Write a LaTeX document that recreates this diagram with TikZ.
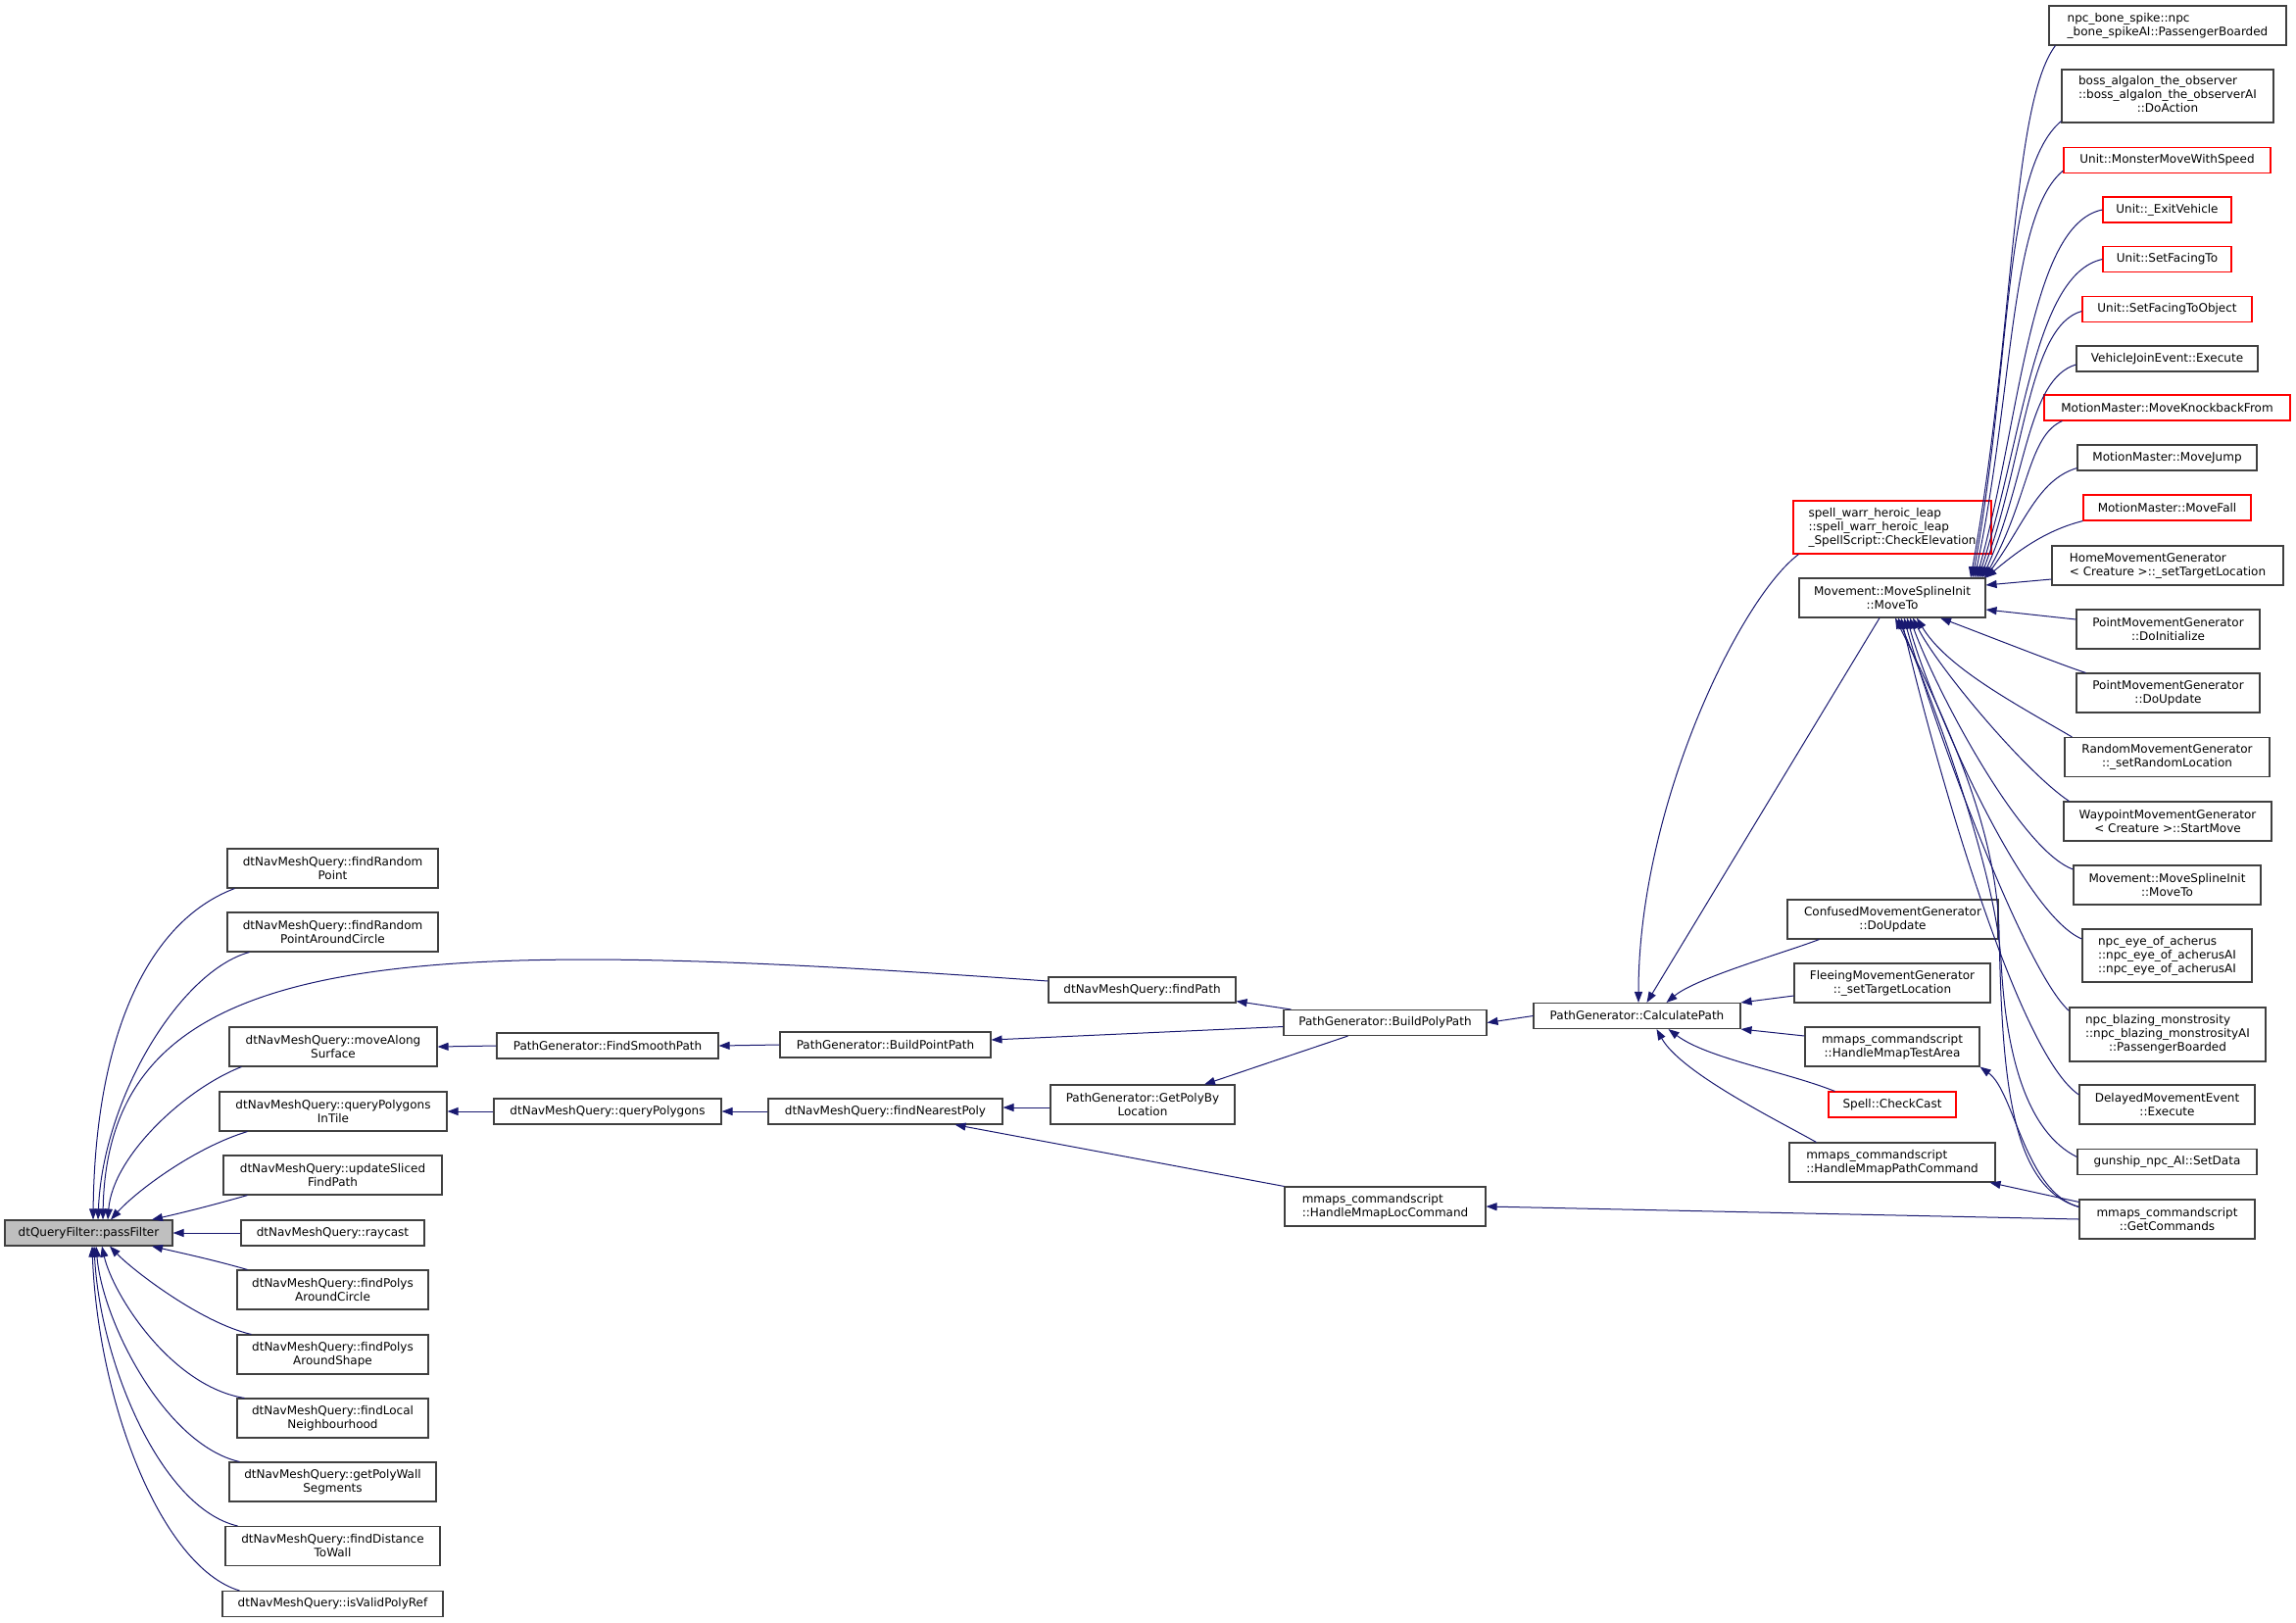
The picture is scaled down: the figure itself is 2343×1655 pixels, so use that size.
\documentclass[tikz,border=0pt]{standalone}
\usepackage{fontspec}
\setmainfont{DejaVu Sans}
\usetikzlibrary{arrows.meta}
\definecolor{edgeblue}{HTML}{191970}
\definecolor{boxgray}{HTML}{404040}
\definecolor{boxred}{HTML}{FF0000}
\definecolor{boxfill}{HTML}{BFBFBF}

\begin{document}
\begin{tikzpicture}[x=1pt, y=-1pt,
    fn/.style={draw=boxgray, line width=1.1pt, inner sep=0pt, minimum height=26, align=center, font=\fontsize{12}{14}\selectfont},
    fnred/.style={fn, draw=boxred},
    calls/.style={draw=edgeblue, line width=1pt, {Triangle[length=11pt,width=8pt]}-}]
\useasboundingbox (0,0) rectangle (2343,1655);

% detour query side
\node[fn, fill=boxfill, minimum width=171] (pf) at (90.5,1258) {dtQueryFilter::passFilter};
\node[fn, minimum width=215, minimum height=40] (frp) at (339.5,886) {dtNavMeshQuery::findRandom\\Point};
\node[fn, minimum width=215, minimum height=40] (frpac) at (339.5,951) {dtNavMeshQuery::findRandom\\PointAroundCircle};
\node[fn, minimum width=212, minimum height=40] (mas) at (340,1068) {dtNavMeshQuery::moveAlong\\Surface};
\node[fn, minimum width=232, minimum height=40] (qpit) at (340,1134) {dtNavMeshQuery::queryPolygons\\InTile};
\node[fn, minimum width=223, minimum height=40] (usfp) at (339.5,1199) {dtNavMeshQuery::updateSliced\\FindPath};
\node[fn, minimum width=187] (ray) at (339.5,1258) {dtNavMeshQuery::raycast};
\node[fn, minimum width=195, minimum height=40] (fpac) at (339.5,1316) {dtNavMeshQuery::findPolys\\AroundCircle};
\node[fn, minimum width=195, minimum height=40] (fpas) at (339.5,1382) {dtNavMeshQuery::findPolys\\AroundShape};
\node[fn, minimum width=195, minimum height=40] (fln) at (339.5,1447) {dtNavMeshQuery::findLocal\\Neighbourhood};
\node[fn, minimum width=211, minimum height=40] (gpws) at (339.5,1512) {dtNavMeshQuery::getPolyWall\\Segments};
\node[fn, minimum width=219, minimum height=40] (fdtw) at (339.5,1577.5) {dtNavMeshQuery::findDistance\\ToWall};
\node[fn, minimum width=225] (ivpr) at (339.5,1636.5) {dtNavMeshQuery::isValidPolyRef};

\node[fn, minimum width=226] (fsp) at (620,1067) {PathGenerator::FindSmoothPath};
\node[fn, minimum width=232] (qp) at (620,1134) {dtNavMeshQuery::queryPolygons};
\node[fn, minimum width=215] (bpp) at (903.5,1066) {PathGenerator::BuildPointPath};
\node[fn, minimum width=239] (fnp) at (903.5,1134) {dtNavMeshQuery::findNearestPoly};
\node[fn, minimum width=191] (fp) at (1165.5,1010) {dtNavMeshQuery::findPath};
\node[fn, minimum width=188, minimum height=40] (gpbl) at (1166,1127) {PathGenerator::GetPolyBy\\Location};
\node[fn, minimum width=207] (bplp) at (1413.5,1043.5) {PathGenerator::BuildPolyPath};
\node[fn, minimum width=205, minimum height=40, align=left] (hmlc) at (1413.5,1231) {mmaps\_commandscript\\::HandleMmapLocCommand};
\node[fn, minimum width=211] (calc) at (1670.5,1036.5) {PathGenerator::CalculatePath};

% callers of CalculatePath
\node[fnred, minimum width=202, minimum height=54, align=left] (sw) at (1931,538) {spell\_warr\_heroic\_leap\\::spell\_warr\_heroic\_leap\\\_SpellScript::CheckElevation};
\node[fn, minimum width=190, minimum height=40] (msi) at (1931,610) {Movement::MoveSplineInit\\::MoveTo};
\node[fn, minimum width=215, minimum height=40] (conf) at (1931.5,938) {ConfusedMovementGenerator\\::DoUpdate};
\node[fn, minimum width=200, minimum height=40] (flee) at (1931,1003) {FleeingMovementGenerator\\::\_setTargetLocation};
\node[fn, minimum width=178, minimum height=40] (tmta) at (1931,1068) {mmaps\_commandscript\\::HandleMmapTestArea};
\node[fnred, minimum width=130] (cc) at (1931,1127) {Spell::CheckCast};
\node[fn, minimum width=210, minimum height=40, align=left] (hmpc) at (1931,1186) {mmaps\_commandscript\\::HandleMmapPathCommand};

% callers of MoveSplineInit::MoveTo
\node[fn, minimum width=242, minimum height=40, align=left] (bs) at (2212,26) {npc\_bone\_spike::npc\\\_bone\_spikeAI::PassengerBoarded};
\node[fn, minimum width=216, minimum height=54] (alg) at (2212,98) {\begin{tabular}{@{}l@{}}boss\_algalon\_the\_observer\\::boss\_algalon\_the\_observerAI\\\multicolumn{1}{@{}c@{}}{::DoAction}\end{tabular}};
\node[fnred, minimum width=211] (mm) at (2211.5,163.5) {Unit::MonsterMoveWithSpeed};
\node[fnred, minimum width=131] (ev) at (2211.5,214) {Unit::\_ExitVehicle};
\node[fnred, minimum width=131] (sft) at (2211.5,264.5) {Unit::SetFacingTo};
\node[fnred, minimum width=173] (sfo) at (2211.5,315.5) {Unit::SetFacingToObject};
\node[fn, minimum width=185] (vje) at (2211.5,366) {VehicleJoinEvent::Execute};
\node[fnred, minimum width=251] (mkf) at (2211.5,416) {MotionMaster::MoveKnockbackFrom};
\node[fn, minimum width=183] (mj) at (2211.5,467) {MotionMaster::MoveJump};
\node[fnred, minimum width=171] (mf) at (2211.5,518) {MotionMaster::MoveFall};
\node[fn, minimum width=236, minimum height=40, align=left] (home) at (2212,577) {HomeMovementGenerator\\< Creature >::\_setTargetLocation};
\node[fn, minimum width=187, minimum height=40] (pinit) at (2212.5,642) {PointMovementGenerator\\::DoInitialize};
\node[fn, minimum width=187, minimum height=40] (pupd) at (2212.5,707) {PointMovementGenerator\\::DoUpdate};
\node[fn, minimum width=209, minimum height=40] (rand) at (2211.5,772.5) {RandomMovementGenerator\\::\_setRandomLocation};
\node[fn, minimum width=212, minimum height=40] (wp) at (2212,838) {WaypointMovementGenerator\\< Creature >::StartMove};
\node[fn, minimum width=191, minimum height=40] (msi2) at (2211.5,903) {Movement::MoveSplineInit\\::MoveTo};
\node[fn, minimum width=173, minimum height=54, align=left] (eye) at (2211.5,975) {npc\_eye\_of\_acherus\\::npc\_eye\_of\_acherusAI\\::npc\_eye\_of\_acherusAI};
\node[fn, minimum width=200, minimum height=55] (blz) at (2212,1055.5) {\begin{tabular}{@{}l@{}}npc\_blazing\_monstrosity\\::npc\_blazing\_monstrosityAI\\\multicolumn{1}{@{}c@{}}{::PassengerBoarded}\end{tabular}};
\node[fn, minimum width=179, minimum height=40] (dme) at (2211.5,1127) {DelayedMovementEvent\\::Execute};
\node[fn, minimum width=183] (gs) at (2211.5,1185.5) {gunship\_npc\_AI::SetData};
\node[fn, minimum width=179, minimum height=40] (gc) at (2211.5,1244) {mmaps\_commandscript\\::GetCommands};

% into passFilter
\draw[calls] ([xshift=4.5]pf.north) .. controls +(2,-185) and +(-90,34) .. ([xshift=8]frp.south west);
\draw[calls] ([xshift=9.5]pf.north) .. controls +(5,-125) and +(-70,19) .. ([xshift=23]frpac.south west);
\draw[calls] ([xshift=14.5]pf.north) .. controls +(5,-285) and +(-650,-46) .. ([yshift=9]fp.west);
\draw[calls] ([xshift=19.5]pf.north) .. controls +(5,-65) and +(-57,22) .. ([xshift=13]mas.south west);
\draw[calls] ([xshift=22.5]pf.north) .. controls +(27,-30) and +(-53,16) .. ([xshift=29]qpit.south west);
\draw[calls] ([xshift=64.5]pf.north) .. controls +(35,-8) and +(-35,10) .. ([xshift=25]usfp.south west);
\draw[calls] (pf.east) -- (ray.west);
\draw[calls] ([xshift=64.5]pf.south) .. controls +(35,8) and +(-35,-10) .. ([xshift=11]fpac.north west);
\draw[calls] ([xshift=21.5]pf.south) .. controls +(23,24) and +(-52,-12) .. ([xshift=15]fpas.north west);
\draw[calls] ([xshift=13.5]pf.south) .. controls +(11,49) and +(-75,-12) .. ([xshift=8]fln.north west);
\draw[calls] ([xshift=7.5]pf.south) .. controls +(7,79) and +(-75,-17) .. ([xshift=11]gpws.north west);
\draw[calls] ([xshift=5.5]pf.south) .. controls +(6,119) and +(-78,-18) .. ([xshift=13]fdtw.north west);
\draw[calls] ([xshift=3.5]pf.south) .. controls +(6,159) and +(-80,-24) .. ([xshift=18]ivpr.north west);

% middle chain
\draw[calls] (mas.east) -- (fsp.west);
\draw[calls] (fsp.east) -- (bpp.west);
\draw[calls] ([yshift=5]bpp.east) -- ([yshift=-4]bplp.west);
\draw[calls] (qpit.east) -- (qp.west);
\draw[calls] (qp.east) -- (fnp.west);
\draw[calls] ([yshift=4]fnp.east) -- ([yshift=-3]gpbl.west);
\draw[calls] ([xshift=71]fnp.south) -- (hmlc.north west);
\draw[calls] ([yshift=2]fp.south east) -- ([xshift=8]bplp.north west);
\draw[calls] ([xshift=63]gpbl.north) -- ([xshift=-38]bplp.south);
\draw[calls] (bplp.east) -- (calc.west);
\draw[calls] (hmlc.east) -- (gc.west);

% into CalculatePath
\draw[calls] ([xshift=1.5]calc.north) .. controls +(0,-200) and +(-60,45) .. ([xshift=6]sw.south west);
\draw[calls] ([xshift=10]calc.north) -- ([xshift=-13]msi.south);
\draw[calls] ([xshift=30]calc.north) .. controls +(30,-25) and +(-40,15) .. ([xshift=33]conf.south west);
\draw[calls] (calc.north east) -- ([yshift=-13]flee.west);
\draw[calls] (calc.south east) -- ([yshift=11]tmta.west);
\draw[calls] ([xshift=32]calc.south) .. controls +(40,30) and +(-50,-20) .. ([xshift=7]cc.north west);
\draw[calls] ([xshift=20]calc.south) .. controls +(25,45) and +(-35,-20) .. ([xshift=28]hmpc.north west);

% GetCommands
\draw[calls] ([xshift=-6]hmpc.south east) -- ([yshift=-3]gc.north west);
\draw[calls] (tmta.south east) .. controls +(35,25) and +(-55,-15) .. ([yshift=-8]gc.north west);

% into MoveSplineInit::MoveTo, from above
\draw[calls] ([xshift=80]msi.north) .. controls +(45,-250) and +(-45,60) .. ([xshift=7]bs.south west);
\draw[calls] ([xshift=82]msi.north) .. controls +(40,-220) and +(-60,50) .. ([yshift=2]alg.south west);
\draw[calls] ([xshift=84]msi.north) .. controls +(40,-190) and +(-55,45) .. ([yshift=3]mm.south west);
\draw[calls] ([xshift=86]msi.north) .. controls +(45,-160) and +(-75,15) .. (ev.west);
\draw[calls] ([xshift=88]msi.north) .. controls +(45,-140) and +(-70,15) .. (sft.west);
\draw[calls] ([xshift=90]msi.north) .. controls +(45,-120) and +(-55,15) .. ([yshift=-2]sfo.west);
\draw[calls] ([xshift=92]msi.north) .. controls +(45,-100) and +(-50,15) .. ([yshift=-6]vje.west);
\draw[calls] ([xshift=94]msi.north) .. controls +(45,-80) and +(-35,15) .. ([xshift=19]mkf.south west);
\draw[calls] ([xshift=95]msi.north) .. controls +(40,-55) and +(-40,12) .. ([yshift=3]mj.south west);
\draw[calls] (msi.north east) .. controls +(30,-25) and +(-40,10) .. (mf.south west);

% from the right and below
\draw[calls] ([yshift=13]msi.east) -- ([yshift=-14]home.west);
\draw[calls] ([yshift=-12]msi.east) -- ([yshift=10]pinit.west);
\draw[calls] ([xshift=49]msi.south) .. controls +(40,15) and +(-25,-8) .. ([xshift=10]pupd.north west);
\draw[calls] ([xshift=25]msi.south) .. controls +(30,50) and +(-60,-35) .. ([xshift=8]rand.north west);
\draw[calls] ([xshift=21]msi.south) .. controls +(25,50) and +(-45,-30) .. ([xshift=6]wp.north west);
\draw[calls] ([xshift=18]msi.south) .. controls +(25,70) and +(-55,-20) .. ([yshift=16]msi2.west);
\draw[calls] ([xshift=15]msi.south) .. controls +(25,90) and +(-60,-25) .. ([yshift=17]eye.west);
\draw[calls] ([xshift=12]msi.south) .. controls +(30,110) and +(-45,-40) .. ([yshift=-4]blz.north west);
\draw[calls] ([xshift=9]msi.south) .. controls +(40,170) and +(-60,-40) .. ([yshift=10]dme.west);
\draw[calls] ([xshift=6]msi.south) .. controls +(50,120) and +(-5,-80) .. (2042,980) .. controls +(5,100) and +(-50,-25) .. ([yshift=5]gs.west);
\draw[calls] ([xshift=3]msi.south) .. controls +(60,120) and +(-3,-100) .. (2040,950) .. controls +(3,150) and +(-70,-20) .. ([yshift=-8]gc.north west);
\end{tikzpicture}
\end{document}
